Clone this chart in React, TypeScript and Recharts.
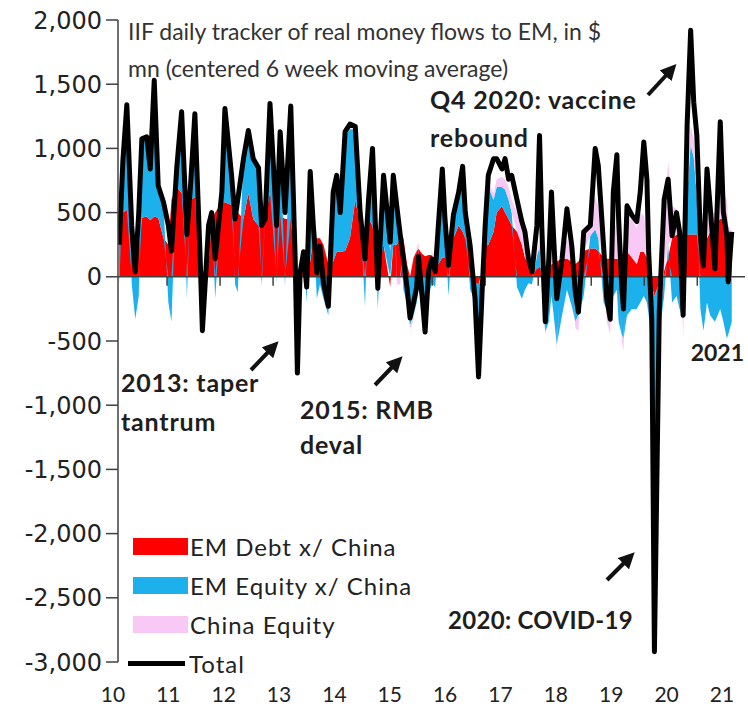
import React from "react";
import { ComposedChart, Area, Line, XAxis, YAxis, ReferenceLine, Legend } from "recharts";

// month index since Jan 2010 for each reading
const monthIdx = [
  1.2, 2.0, 2.9, 4.0, 4.8, 5.6, 6.3, 7.4, 8.2, 9.1, 10.0, 11.2, 12.3, 13.0, 14.2, 15.3, 16.5, 17.3, 18.3, 19.5,
  20.0, 21.4, 22.1, 22.9, 24.4, 25.1, 26.6, 27.4, 28.0, 29.3, 30.4, 31.5, 32.7, 33.4, 34.2, 35.3, 36.8, 37.6, 38.7, 40.0,
  41.0, 41.5, 42.1, 42.9, 43.6, 44.4, 45.1, 45.9, 46.6, 47.4, 48.5, 49.6, 50.4, 51.2, 52.3, 53.4, 54.6, 55.7, 56.8, 57.6,
  58.5, 59.7, 61.0, 62.5, 63.2, 64.0, 64.8, 65.5, 66.3, 67.0, 67.8, 68.5, 68.9, 69.7, 70.4, 71.2, 71.9, 72.7, 73.4, 74.3,
  74.9, 75.7, 76.8, 78.0, 78.9, 79.5, 80.6, 81.7, 82.5, 83.3, 84.0, 84.7, 85.9, 86.6, 87.8, 88.5, 89.3, 90.0, 91.2, 92.3,
  93.0, 93.8, 94.6, 95.7, 96.3, 96.8, 97.6, 98.4, 99.0, 99.5, 100.2, 101.4, 102.5, 103.6, 104.4, 105.1, 106.3, 107.8, 108.9, 109.6,
  110.8, 111.5, 112.3, 113.0, 113.8, 114.2, 114.9, 115.3, 116.1, 117.2, 118.3, 119.1, 119.9, 120.6, 121.0, 121.7, 122.3, 123.4, 124.5, 125.4,
  126.3, 127.3, 128.0, 128.8, 129.7, 130.5, 131.2, 131.9, 132.7, 133.4, 134.2, 134.9, 136.0, 137.2, 137.9, 138.7, 139.0, 139.8,
];

const total = [
  250, 900, 1340, 400, 40, 500, 1075, 1090, 840, 1530, 710, 580, 400, 200, 850, 1285, 330, 700, 1270, 140,
  -420, 400, 500, 140, 660, 1310, 790, 450, 600, 920, 1140, 920, 850, 400, 450, 1350, 400, 1130, 500, 1330,
  140, -750, 30, 195, -80, 820, 400, 30, 240, -50, -230, 660, 790, 500, 1130, 1190, 1170, 500, 140, 600,
  1000, -90, 790, 270, 790, 550, 320, 140, -80, -320, -200, -80, 160, -140, -430, 50, 140, 40, 400, 840,
  450, 90, 480, 660, 860, 500, 240, -170, -780, -120, 400, 790, 920, 920, 840, 920, 760, 790, 600, 430,
  350, 140, 40, 400, 1100, 400, -350, 140, 660, 300, -170, 140, 530, 240, -120, -275, 350, 400, 1000, 865,
  240, -170, -330, 660, 950, 450, -70, -250, 553, 480, 430, 660, 1050, 760, 195, -330, -2920, -270, 600, 760,
  320, 500, 350, -300, 1180, 1920, 1360, 1100, 320, 85, 840, 553, 62, 1207, 506, 320, -40, 350,
];

const debt = [
  300, 500, 520, 450, 80, 200, 460, 470, 440, 470, 460, 300, 250, 600, 700, 650, 620, 600, 620, 300,
  30, 100, 450, 500, 580, 580, 560, 520, 500, 450, 650, 450, 400, 400, 450, 660, 450, 480, 450, 450,
  100, -50, 100, 140, 140, 120, 300, 300, 300, 250, 100, 120, 195, 195, 200, 300, 600, 400, 140, 450,
  400, 100, 250, -80, 250, 250, 300, 300, 100, 0, 150, 200, 220, 180, 160, 170, 170, 120, 100, 150,
  150, 300, 300, 400, 350, 300, 220, -40, -60, 50, 240, 250, 350, 500, 550, 500, 450, 400, 350, 250,
  150, 100, 80, 60, 80, 50, -30, 50, 100, 100, 120, 140, 140, 120, 100, 120, 200, 220, 220, 200,
  150, 140, 140, 140, 140, 140, 140, 140, 195, 150, 100, 195, 195, 150, 30, -70, -150, -50, 50, 150,
  300, 330, 330, 330, 330, 330, 330, 330, 330, 300, 300, 350, 420, 450, 450, 450, 300, 200,
];

const equity = [
  -60, 400, 820, -50, -330, -150, 600, 620, 400, 1050, 250, 250, -200, -350, 150, 630, -170, 100, 650, -300,
  -430, 250, 50, -170, 80, 730, 230, -60, -120, 470, 490, 470, 400, -70, 0, 690, -50, 650, -80, 880,
  40, -600, -100, 50, -200, 650, 100, -170, -60, -170, -300, 500, 590, 300, 900, 850, 550, 100, -230, 150,
  580, -250, 520, 200, 500, 250, 0, -100, -200, -380, -300, -200, -100, -200, -330, -150, -50, -80, 250, 600,
  250, -150, 150, 250, 450, 150, -100, -150, -600, -200, 100, 450, 250, 200, 150, 180, 150, 100, -80, -170,
  -100, -50, -60, 100, 150, -100, -400, -350, -150, -300, -530, -300, -100, -230, -350, -300, -150, 100, 150, 100,
  -200, -250, -300, -150, -100, -350, -450, -480, -300, -250, -250, -200, -150, -200, -300, -500, -2500, -400, -150, 100,
  -200, -150, -250, -330, 300, 700, 600, 300, -250, -420, -200, -300, -350, -250, -350, -480, -450, -350,
];

const china = [
  0, 0, 0, 0, 0, 0, 0, 0, 0, 0, 0, 0, 0, 0, 0, 0, 0, 0, 0, 0,
  0, 0, 0, 0, 0, 0, 0, 0, 0, 0, 0, 0, 0, 0, 0, 0, 0, 0, 0, 0,
  0, 0, 0, 0, 0, 0, 0, 0, 0, 0, 0, 0, 0, 0, 0, 0, 0, 0, 0, 0,
  0, 0, 0, 30, 30, -60, -60, 20, -20, -30, -30, 30, 50, -80, -100, -50, 30, 0, 20, 40,
  30, 0, 30, 30, 50, 30, 20, -20, -50, -20, 20, 40, 50, 60, 80, 80, 100, 100, 150, 150,
  80, 30, 0, 30, 50, 20, -30, 30, 100, 80, -50, 50, 150, 100, -50, -120, 50, 200, 250, 250,
  50, -100, -150, 200, 300, 100, -50, -100, 250, 300, 280, 300, 280, 200, 100, -50, -150, -100, 300, 650,
  250, 200, 100, -150, 100, 150, 150, 100, 50, 0, 150, 150, 80, 250, 200, 150, 100, 150,
];

const yTicks = [-3000, -2500, -2000, -1500, -1000, -500, 0, 500, 1000, 1500, 2000];
const yearTicks = [2011, 2012, 2013, 2014, 2015, 2016, 2017, 2018, 2019, 2020, 2021];
const xLabels = ["10", "11", "12", "13", "14", "15", "16", "17", "18", "19", "20", "21"];
const legendOrder = ["debt", "equity", "china", "total"];

const names: Record<string, string> = {
  debt: "EM Debt x/ China",
  equity: "EM Equity x/ China",
  china: "China Equity",
  total: "Total",
};
const colors: Record<string, string> = {
  debt: "#FF0000",
  equity: "#1CB0EC",
  china: "#F9C9F5",
  total: "#000000",
};

const data = monthIdx.map((m, i) => ({
  t: 2010 + m / 12,
  debt: debt[i],
  equity: equity[i],
  china: china[i],
  total: total[i],
}));

const X_MIN = 2010.075;
const X_MAX = 2021.9;
// category labels sit slightly off the year ticks in the original
const labelTicks = xLabels.map((_, i) => Math.max(X_MIN, 2009.98 + i * 1.0441));

const fmt = (v: number) => v.toLocaleString("en-US");

function XTick(props: any) {
  const { x, y, index } = props;
  const shift = index === 0 ? -5 : 0;
  return (
    <text x={x + shift} y={y + 40} textAnchor="middle" fill="#222" fontSize={21} fontFamily="Lato">
      {xLabels[index]}
    </text>
  );
}

function LegendBox(props: any) {
  const { payload = [] } = props;
  const items = legendOrder
    .map((k) => payload.find((p: any) => p.dataKey === k))
    .filter(Boolean);
  return (
    <div style={{ fontFamily: "Lato", fontSize: 24, letterSpacing: 1, color: "#222" }}>
      {items.map((p: any) => {
        const key = p.dataKey as string;
        const isLine = key === "total";
        return (
          <div key={key} style={{ display: "flex", alignItems: "center", height: 39 }}>
            {isLine ? (
              <div style={{ width: 57, height: 5, background: colors[key], marginRight: 4 }} />
            ) : (
              <div style={{ width: 55, height: 17, background: colors[key], marginLeft: 5, marginRight: 2 }} />
            )}
            <span>{names[key]}</span>
          </div>
        );
      })}
    </div>
  );
}

const annoStyle = { fontFamily: "Lato", fontWeight: 700, fontSize: 25, letterSpacing: 0.8, fill: "#1e1e1e" } as const;

export default function App() {
  return (
    <div style={{ position: "relative", width: 748, height: 714, background: "#fff" }}>
      <style>{`body{margin:0}`}</style>
      <ComposedChart
        width={748}
        height={714}
        data={data}
        stackOffset="sign"
        margin={{ top: 20, right: 3, left: 0, bottom: 0 }}
      >
        <XAxis
          dataKey="t"
          type="number"
          domain={[X_MIN, X_MAX]}
          allowDataOverflow
          ticks={labelTicks}
          interval={0}
          tick={<XTick />}
          tickLine={false}
          axisLine={false}
          tickSize={0}
          tickMargin={0}
          height={52}
        />
        <YAxis
          type="number"
          domain={[-3000, 2000]}
          ticks={yTicks}
          interval={0}
          tickFormatter={fmt}
          width={118}
          tickSize={12}
          tickMargin={4}
          axisLine={{ stroke: "#404040", strokeWidth: 1.5 }}
          tickLine={{ stroke: "#404040", strokeWidth: 1.5 }}
          tick={{ fill: "#222", fontSize: 24, fontFamily: "DejaVu Sans" }}
        />
        <Legend
          layout="horizontal"
          verticalAlign="middle"
          align="center"
          content={<LegendBox />}
          wrapperStyle={{ left: 128, top: 527, width: 360 }}
        />
        <Area dataKey="debt" name={names.debt} stackId="s" type="linear" stroke="none" fill={colors.debt} fillOpacity={1} isAnimationActive={false} />
        <Area dataKey="equity" name={names.equity} stackId="s" type="linear" stroke="none" fill={colors.equity} fillOpacity={1} isAnimationActive={false} />
        <Area dataKey="china" name={names.china} stackId="s" type="linear" stroke="none" fill={colors.china} fillOpacity={1} isAnimationActive={false} />
        <ReferenceLine y={0} stroke="#404040" strokeWidth={1.5} />
        {yearTicks.map((yr) => (
          <ReferenceLine
            key={yr}
            segment={[{ x: yr, y: 0 }, { x: yr, y: -70 }]}
            stroke="#404040"
            strokeWidth={1.5}
          />
        ))}
        <Line dataKey="total" name={names.total} type="linear" stroke={colors.total} strokeWidth={5} dot={false} strokeLinejoin="round" isAnimationActive={false} />
      </ComposedChart>

      <svg width={748} height={714} style={{ position: "absolute", left: 0, top: 0, pointerEvents: "none" }}>
        <defs>
          <marker id="head" markerWidth="4" markerHeight="4" refX="2" refY="2" orient="auto" markerUnits="strokeWidth">
            <path d="M0,0 L4,2 L0,4 z" fill="#111" />
          </marker>
        </defs>
        <g fontFamily="Lato" fontSize={23} fill="#333">
          <text x={128} y={40}>IIF daily tracker of real money flows to EM, in $</text>
          <text x={128} y={77}>mn (centered 6 week moving average)</text>
        </g>
        <g {...annoStyle}>
          <text x={430} y={109}>Q4 2020: vaccine</text>
          <text x={430} y={147}>rebound</text>
          <text x={121} y={392}>2013: taper</text>
          <text x={121} y={431}>tantrum</text>
          <text x={300} y={419}>2015: RMB</text>
          <text x={300} y={454}>deval</text>
          <text x={448} y={629} fontSize={24} letterSpacing={0.3}>2020: COVID-19</text>
        </g>
        <text x={744} y={361} textAnchor="end" fontFamily="Lato" fontWeight={700} fontSize={23} fill="#1e1e1e">
          2021
        </text>
        <g stroke="#111" strokeWidth={4} markerEnd="url(#head)">
          <line x1={648} y1={95} x2={671} y2={70} />
          <line x1={251} y1={370} x2={273} y2={347} />
          <line x1={375} y1={385} x2={397} y2={362} />
          <line x1={607} y1={580} x2={629} y2={558} />
        </g>
      </svg>
    </div>
  );
}
